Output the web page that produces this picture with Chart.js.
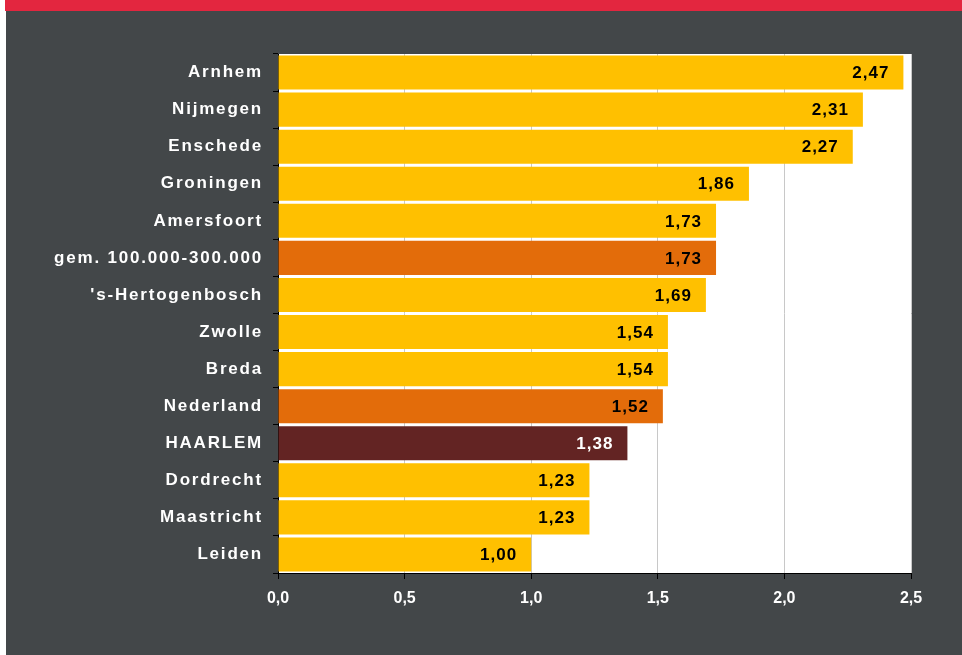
<!DOCTYPE html>
<html>
<head>
<meta charset="utf-8">
<script src="https://cdn.jsdelivr.net/npm/chart.js@4/dist/chart.umd.min.js"></script>
<style>
  html, body { margin: 0; padding: 0; background: #ffffff; }
  #wrap { position: relative; width: 962px; height: 655px; overflow: hidden; }
  #band { position: absolute; left: 5px; top: 0; width: 957px; height: 11px; background: #e3263f; }
  #panel { position: absolute; left: 6px; top: 11px; width: 956px; height: 644px; background: #434749; }
  #chart { position: absolute; left: 0; top: 0; }
</style>
</head>
<body>
<div id="wrap">
  <div id="band"></div>
  <div id="panel"></div>
  <canvas id="chart" width="962" height="655"></canvas>
</div>
<script>
// gemeenten en waarden
var steden = ["Arnhem", "Nijmegen", "Enschede", "Groningen", "Amersfoort",
    "gem. 100.000-300.000", "'s-Hertogenbosch", "Zwolle", "Breda", "Nederland",
    "HAARLEM", "Dordrecht", "Maastricht", "Leiden"];
var waarden = [2.47, 2.31, 2.27, 1.86, 1.73, 1.73, 1.69, 1.54, 1.54, 1.52, 1.38, 1.23, 1.23, 1.00];
var xTicks = [0, 0.5, 1, 1.5, 2, 2.5];

var GEEL = "#ffc000", ORANJE = "#e36c0a", BORDEAUX = "#632423";
var kleuren = steden.map(function (s) {
    if (s === "HAARLEM") return BORDEAUX;
    if (s === "Nederland" || s.indexOf("gem.") === 0) return ORANJE;
    return GEEL;
});

function komma(v, d) {
    return v.toFixed(d).replace(".", ",");
}

// witte achtergrond van het plotgebied + letterafstand voor de as-labels
var achtergrond = {
    id: "achtergrond",
    beforeDraw: function (chart) {
        var a = chart.chartArea, ctx = chart.ctx;
        ctx.save();
        ctx.fillStyle = "#ffffff";
        ctx.fillRect(a.left, a.top, a.right - a.left, a.bottom - a.top);
        ctx.restore();
        [["y", "1.8px"], ["x", "0px"]].forEach(function (p) {
            var sc = chart.scales[p[0]];
            if (sc && !sc._spaced) {
                var orig = sc.drawLabels.bind(sc);
                sc.drawLabels = function (area) {
                    sc.ctx.save();
                    sc.ctx.letterSpacing = p[1];
                    orig(area);
                    sc.ctx.restore();
                };
                sc._spaced = true;
            }
        });
    }
};

// waarden aan het eind van elke balk
var waardeLabels = {
    id: "waardeLabels",
    afterDatasetsDraw: function (chart) {
        var ctx = chart.ctx;
        var meta = chart.getDatasetMeta(0);
        ctx.save();
        ctx.font = "bold 17px 'Liberation Sans', Arial, sans-serif";
        ctx.letterSpacing = "1px";
        ctx.textAlign = "right";
        ctx.textBaseline = "middle";
        meta.data.forEach(function (bar, i) {
            ctx.fillStyle = steden[i] === "HAARLEM" ? "#ffffff" : "#000000";
            ctx.fillText(komma(waarden[i], 2), bar.x - 14, bar.y + 1);
        });
        ctx.restore();
    }
};

new Chart(document.getElementById("chart"), {
    type: "bar",
    data: {
        labels: steden,
        datasets: [{
            data: waarden,
            backgroundColor: kleuren,
            borderWidth: 0,
            barPercentage: 0.92,
            categoryPercentage: 1
        }]
    },
    options: {
        indexAxis: "y",
        responsive: false,
        animation: false,
        layout: { padding: { top: 54, right: 51, left: 0, bottom: 0 } },
        plugins: { legend: { display: false }, tooltip: { enabled: false } },
        scales: {
            y: {
                afterFit: function (s) { s.width = 278; },
                border: { display: true, color: "#000000", width: 1 },
                grid: { drawOnChartArea: false, tickLength: 5, color: "#000000", offset: true },
                ticks: {
                    color: "#ffffff",
                    padding: 10,
                    font: { family: "'Liberation Sans', Arial, sans-serif", size: 17, weight: "bold" }
                }
            },
            x: {
                min: 0,
                max: 2.5,
                afterFit: function (s) { s.height = 82; },
                afterBuildTicks: function (s) {
                    s.ticks = xTicks.map(function (v) { return { value: v }; });
                },
                border: { display: true, color: "#000000", width: 1 },
                grid: { color: "#c8c8c8", tickColor: "#000000", tickLength: 6 },
                ticks: {
                    color: "#ffffff",
                    padding: 10,
                    maxRotation: 0,
                    font: { family: "'Liberation Sans', Arial, sans-serif", size: 16, weight: "bold" },
                    callback: function (v) { return komma(v, 1); }
                }
            }
        }
    },
    plugins: [achtergrond, waardeLabels]
});
</script>
</body>
</html>
